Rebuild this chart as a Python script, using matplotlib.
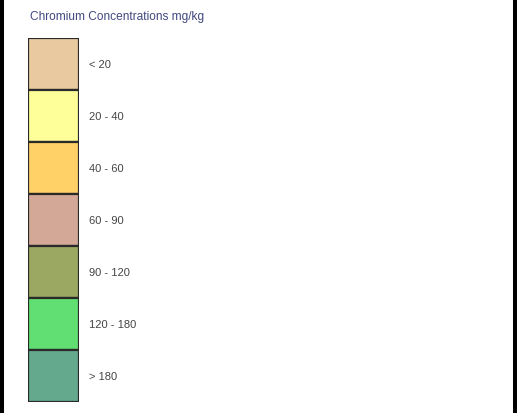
import matplotlib.pyplot as plt
from matplotlib.lines import Line2D

title = 'Chromium Concentrations mg/kg'
classes = ['< 20', '20 - 40', '40 - 60', '60 - 90', '90 - 120', '120 - 180', '> 180']
colors = ['#E9CAA0', '#FFFF99', '#FFD166', '#D3A896', '#9AA862', '#62DF72', '#64A88E']

plt.rcParams['font.family'] = ['Liberation Sans', 'DejaVu Sans']

fig = plt.figure(figsize=(5.17, 4.14), dpi=100)
fig.patch.set_facecolor('white')

# legend swatch column
ax = fig.add_axes([28 / 517, 11 / 414, 51 / 517, 364 / 414])
pos = list(range(len(classes)))
ax.bar([0.5] * len(classes), [1] * len(classes), bottom=pos, width=1,
       color=colors, edgecolor='#2A2A2A', linewidth=1.6)
for i, lab in enumerate(classes):
    ax.text(1.2, i + 0.5, lab, va='center', ha='left', fontsize=8,
            color='#444444', clip_on=False)
ax.set_xlim(0, 1)
ax.set_ylim(len(classes), 0)
ax.axis('off')

fig.text(30 / 517, 1 - 17 / 414, title, fontsize=8.6, color='#404880',
         va='center', ha='left')

# frame lines at left and right
fig.add_artist(Line2D([2 / 517, 2 / 517], [0, 1], color='black', linewidth=2.9,
                      transform=fig.transFigure))
fig.add_artist(Line2D([515 / 517, 515 / 517], [0, 1], color='black', linewidth=2.9,
                      transform=fig.transFigure))

fig.savefig('out.png', dpi=100, facecolor='white')
